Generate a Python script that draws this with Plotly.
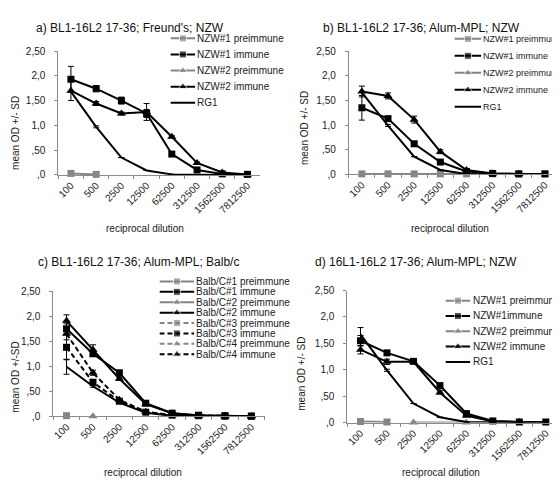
import plotly.graph_objects as go

# ---------------- data ----------------
dilution = ["100", "500", "2500", "12500", "62500", "312500", "1562500", "7812500"]
ytick_vals = [0, 0.5, 1.0, 1.5, 2.0, 2.5]
ytick_text = [",0", ",50", "1,0", "1,50", "2,0", "2,50"]

titles = ["a) BL1-16L2 17-36; Freund's; NZW",
          "b) BL1-16L2 17-36; Alum-MPL; NZW",
          "c) BL1-16L2 17-36; Alum-MPL; Balb/c",
          "d) 16L1-16L2 17-36; Alum-MPL; NZW"]
ytitles = ["mean OD +/- SD", "mean OD +/- SD", "mean OD +/-SD", "mean OD +/- SD"]
xtitle = "reciprocal dilution"

# panel a
a_names = ["NZW#1 preimmune", "NZW#1 immune", "NZW#2 preimmune", "NZW#2 immune", "RG1"]
a_nzw1_pre = [0.03, 0.01, None, None, None, None, None, None]
a_nzw1_imm = [1.93, 1.74, 1.50, 1.24, 0.42, 0.10, 0.02, 0.01]
a_nzw1_imm_sd = [0.26, 0.06, 0.07, 0.08, 0.04, 0.02, 0, 0]
a_nzw2_pre = [None, None, None, None, None, None, None, None]
a_nzw2_imm = [1.70, 1.44, 1.24, 1.27, 0.77, 0.24, 0.05, 0.01]
a_nzw2_imm_sd = [0.20, 0.04, 0.03, 0.17, 0.02, 0.02, 0, 0]
a_rg1 = [1.68, 0.97, 0.35, 0.09, 0.01, 0.0, 0.0, 0.0]
a_rg1_sd = [0, 0.02, 0, 0, 0, 0, 0, 0]

# panel b
b_names = ["NZW#1 preimmune", "NZW#1 immune", "NZW#2 preimmune", "NZW#2 immune", "RG1"]
b_nzw1_pre = [0.01, 0.01, 0.01, 0.01, 0.01, 0.01, 0.01, 0.01]
b_nzw1_imm = [1.35, 1.13, 0.62, 0.25, 0.06, 0.02, 0.01, 0.01]
b_nzw1_imm_sd = [0.25, 0.04, 0.03, 0.03, 0.01, 0, 0, 0]
b_nzw2_pre = [None, None, None, None, None, None, None, None]
b_nzw2_imm = [1.68, 1.59, 1.11, 0.46, 0.09, 0.02, 0.01, None]
b_nzw2_imm_sd = [0.11, 0.06, 0.07, 0.04, 0.01, 0, 0, 0]
b_rg1 = [1.66, 0.99, 0.36, 0.09, 0.01, 0.0, 0.0, 0.0]
b_rg1_sd = [0, 0.02, 0, 0, 0, 0, 0, 0]

# panel c
c_names = ["Balb/C#1 preimmune", "Balb/C#1 immune", "Balb/C#2 preimmune", "Balb/C#2 immune",
           "Balb/C#3 preimmune", "Balb/C#3 immune", "Balb/C#4 preimmune", "Balb/C#4 immune"]
c_b1_pre = [0.01, None, None, None, None, None, None, None]
c_b1_imm = [1.75, 1.25, 0.87, 0.26, 0.06, 0.02, 0.01, 0.0]
c_b1_imm_sd = [0.10, 0.05, 0.03, 0.02, 0.01, 0, 0, 0]
c_b2_pre = [None, 0.0, None, None, None, None, None, None]
c_b2_imm = [1.91, 1.33, 0.75, 0.24, 0.06, 0.01, 0.01, 0.0]
c_b2_imm_sd = [0.12, 0.10, 0.03, 0.02, 0, 0, 0, 0]
c_b3_pre = [None, None, None, None, None, None, None, None]
c_b3_imm = [1.38, 0.68, 0.30, 0.08, 0.02, 0.01, 0.0, 0.0]
c_b3_imm_sd = [0.25, 0.03, 0.02, 0.01, 0, 0, 0, 0]
c_b4_pre = [None, None, None, None, None, None, None, None]
c_b4_imm = [1.65, 0.87, 0.33, 0.09, 0.02, 0.01, 0.0, 0.0]
c_b4_imm_sd = [0.12, 0.05, 0.02, 0.01, 0, 0, 0, 0]
c_unlabelled = [0.99, 0.60, 0.27, 0.07, 0.01, 0.0, 0.0, 0.0]
c_unlabelled_sd = [0.15, 0.02, 0, 0, 0, 0, 0, 0]

# panel d
d_names = ["NZW#1 preimmune", "NZW#1immune", "NZW#2 preimmune", "NZW#2 immune", "RG1"]
d_nzw1_pre = [0.02, 0.01, None, None, None, None, None, None]
d_nzw1_imm = [1.55, 1.32, 1.16, 0.70, 0.17, 0.03, 0.01, 0.01]
d_nzw1_imm_sd = [0.10, 0.04, 0.04, 0.03, 0.02, 0, 0, 0]
d_nzw2_pre = [None, None, 0.0, None, 0.0, None, None, None]
d_nzw2_imm = [1.38, 1.15, 1.15, 0.57, 0.13, 0.02, 0.01, None]
d_nzw2_imm_sd = [0.08, 0.05, 0.03, 0.03, 0.01, 0, 0, 0]
d_rg1 = [1.67, 0.99, 0.36, 0.10, 0.01, 0.0, 0.0, 0.0]
d_rg1_sd = [0.13, 0.02, 0, 0, 0, 0, 0, 0]

# ---------------- styles ----------------
GREY = "#858585"
BLACK = "#000000"
FONT = "Liberation Sans, Arial, sans-serif"
W, H = 560, 480

S_PRE_SQ = dict(color=GREY, symbol="square", dash="solid", markers=True)
S_IMM_SQ = dict(color=BLACK, symbol="square", dash="solid", markers=True)
S_PRE_TR = dict(color=GREY, symbol="triangle-up", dash="solid", markers=True)
S_IMM_TR = dict(color=BLACK, symbol="triangle-up", dash="solid", markers=True)
S_LINE = dict(color=BLACK, symbol="circle", dash="solid", markers=False)
DASH = "5px,3px"
S_PRE_SQ_D = dict(S_PRE_SQ, dash=DASH)
S_IMM_SQ_D = dict(S_IMM_SQ, dash=DASH)
S_PRE_TR_D = dict(S_PRE_TR, dash=DASH)
S_IMM_TR_D = dict(S_IMM_TR, dash=DASH)

panels = [
    dict(series=[(a_names[0], a_nzw1_pre, None, S_PRE_SQ, True),
                 (a_names[1], a_nzw1_imm, a_nzw1_imm_sd, S_IMM_SQ, True),
                 (a_names[2], a_nzw2_pre, None, S_PRE_TR, True),
                 (a_names[3], a_nzw2_imm, a_nzw2_imm_sd, S_IMM_TR, True),
                 (a_names[4], a_rg1, a_rg1_sd, S_LINE, True)],
         xdom=(48.5, 251), y0=165, y25=38,
         leg=dict(l0=161, l1=186, tx=187, top=25, dy=16.5, fs=10),
         ytitle_xy=(6, 122), xtitle_xy=(135, 220), title_xy=(25, 14)),
    dict(series=[(b_names[0], b_nzw1_pre, None, S_PRE_SQ, True),
                 (b_names[1], b_nzw1_imm, b_nzw1_imm_sd, S_IMM_SQ, True),
                 (b_names[2], b_nzw2_pre, None, S_PRE_TR, True),
                 (b_names[3], b_nzw2_imm, b_nzw2_imm_sd, S_IMM_TR, True),
                 (b_names[4], b_rg1, b_rg1_sd, S_LINE, True)],
         xdom=(340, 550), y0=164.5, y25=38,
         leg=dict(l0=446, l1=473, tx=474, top=25.5, dy=17.4, fs=9),
         ytitle_xy=(295, 117), xtitle_xy=(442, 220), title_xy=(313, 14)),
    dict(series=[(c_names[0], c_b1_pre, None, S_PRE_SQ, True),
                 (c_names[1], c_b1_imm, c_b1_imm_sd, S_IMM_SQ, True),
                 (c_names[2], c_b2_pre, None, S_PRE_TR, True),
                 (c_names[3], c_b2_imm, c_b2_imm_sd, S_IMM_TR, True),
                 (c_names[4], c_b3_pre, None, S_PRE_SQ_D, True),
                 (c_names[5], c_b3_imm, c_b3_imm_sd, S_IMM_SQ_D, True),
                 (c_names[6], c_b4_pre, None, S_PRE_TR_D, True),
                 (c_names[7], c_b4_imm, c_b4_imm_sd, S_IMM_TR_D, True),
                 ("Balb/C (no marker)", c_unlabelled, c_unlabelled_sd, S_LINE, False)],
         xdom=(43.5, 255.5), y0=412.5, y25=284.5,
         leg=dict(l0=150, l1=185, tx=186, top=274.3, dy=10.67, fs=10),
         ytitle_xy=(6, 372), xtitle_xy=(133, 470), title_xy=(27, 254)),
    dict(series=[(d_names[0], d_nzw1_pre, None, S_PRE_SQ, True),
                 (d_names[1], d_nzw1_imm, d_nzw1_imm_sd, S_IMM_SQ, True),
                 (d_names[2], d_nzw2_pre, None, S_PRE_TR, True),
                 (d_names[3], d_nzw2_imm, d_nzw2_imm_sd, S_IMM_TR, True),
                 (d_names[4], d_rg1, d_rg1_sd, S_LINE, True)],
         xdom=(338.5, 551), y0=419, y25=283.7,
         leg=dict(l0=437, l1=462, tx=463.5, top=294, dy=15.7, fs=10),
         ytitle_xy=(293, 369), xtitle_xy=(433, 470), title_xy=(305, 254)),
]


def fx(p):
    return p / W


def fy(p):
    return 1 - p / H


def msize(style):
    return 8 if style["symbol"] == "triangle-up" else 7


fig = go.Figure()
layout = dict(width=W, height=H, margin=dict(l=0, r=0, t=0, b=0),
              paper_bgcolor="white", plot_bgcolor="white", showlegend=False,
              font=dict(family=FONT, size=10, color="#1a1a1a"))
annotations = []

axis_common = dict(showgrid=False, zeroline=False, showline=True, linecolor="#8a8a8a",
                   linewidth=1, ticks="outside", ticklen=3, tickcolor="#8a8a8a",
                   tickfont=dict(family=FONT, size=10, color="#222222"), fixedrange=True)

for k, p in enumerate(panels):
    n = k + 1
    xa = "x" if n == 1 else f"x{n}"
    ya = "y" if n == 1 else f"y{n}"
    layout["xaxis" if n == 1 else f"xaxis{n}"] = dict(
        axis_common, type="category", domain=[fx(p["xdom"][0]), fx(p["xdom"][1])],
        range=[-0.5, len(dilution) - 0.5], tickson="boundaries", tickangle=-45,
        categoryorder="array", categoryarray=dilution, anchor=ya)
    layout["yaxis" if n == 1 else f"yaxis{n}"] = dict(
        axis_common, domain=[fy(p["y0"]), fy(p["y25"])], range=[0, 2.5],
        tickvals=ytick_vals, ticktext=ytick_text, anchor=xa, ticklabelstandoff=7)

    for name, vals, sd, st, inleg in p["series"]:
        tr = dict(x=dilution, y=vals, name=name, xaxis=xa, yaxis=ya, cliponaxis=False,
                  connectgaps=True,
                  line=dict(color=st["color"], width=2, dash=st["dash"]),
                  mode="lines+markers" if st["markers"] else "lines",
                  marker=dict(symbol=st["symbol"], size=msize(st), color=st["color"]))
        if sd is not None:
            tr["error_y"] = dict(type="data", array=sd, visible=True, color=BLACK,
                                 thickness=1, width=3)
        fig.add_trace(go.Scatter(**tr))

    # legend box drawn on its own hidden axes
    lg = p["leg"]
    entries = [s for s in p["series"] if s[4]]
    ne = len(entries)
    ln = 4 + k
    lxa, lya = f"x{ln + 1}", f"y{ln + 1}"
    layout[f"xaxis{ln + 1}"] = dict(domain=[fx(lg["l0"]), fx(lg["l1"])], range=[0, 1],
                                    visible=False, fixedrange=True, anchor=lya)
    top_px = lg["top"] - lg["dy"] / 2
    bot_px = lg["top"] + (ne - 1) * lg["dy"] + lg["dy"] / 2
    layout[f"yaxis{ln + 1}"] = dict(domain=[fy(bot_px), fy(top_px)],
                                    range=[ne - 0.5, -0.5], visible=False,
                                    fixedrange=True, anchor=lxa)
    for i, (name, vals, sd, st, inleg) in enumerate(entries):
        fig.add_trace(go.Scatter(
            x=[0, 0.5, 1], y=[i, i, i], xaxis=lxa, yaxis=lya, cliponaxis=False,
            mode="lines+markers" if st["markers"] else "lines", hoverinfo="skip",
            showlegend=False, name=name,
            line=dict(color=st["color"], width=2, dash=st["dash"]),
            marker=dict(symbol=st["symbol"], size=[0, msize(st), 0], color=st["color"])))
        annotations.append(dict(text=name, x=fx(lg["tx"]), xref="paper", y=i, yref=lya,
                                xanchor="left", yanchor="middle", showarrow=False,
                                borderpad=0,
                                font=dict(family=FONT, size=lg["fs"], color="#1a1a1a")))

    # titles
    tx, ty = p["title_xy"]
    annotations.append(dict(text=titles[k], x=fx(tx), y=fy(ty), xref="paper", yref="paper",
                            xanchor="left", yanchor="middle", showarrow=False, borderpad=0,
                            font=dict(family=FONT, size=12, color="#111111")))
    yx, yy = p["ytitle_xy"]
    annotations.append(dict(text=ytitles[k], x=fx(yx), y=fy(yy), xref="paper", yref="paper",
                            xanchor="center", yanchor="middle", showarrow=False, textangle=-90,
                            borderpad=0,
                            font=dict(family=FONT, size=10, color="#1a1a1a")))
    xx, xy = p["xtitle_xy"]
    annotations.append(dict(text=xtitle, x=fx(xx), y=fy(xy), xref="paper", yref="paper",
                            xanchor="center", yanchor="middle", showarrow=False, borderpad=0,
                            font=dict(family=FONT, size=10, color="#1a1a1a")))

layout["annotations"] = annotations
fig.update_layout(**layout)
fig.write_html("out.html")
